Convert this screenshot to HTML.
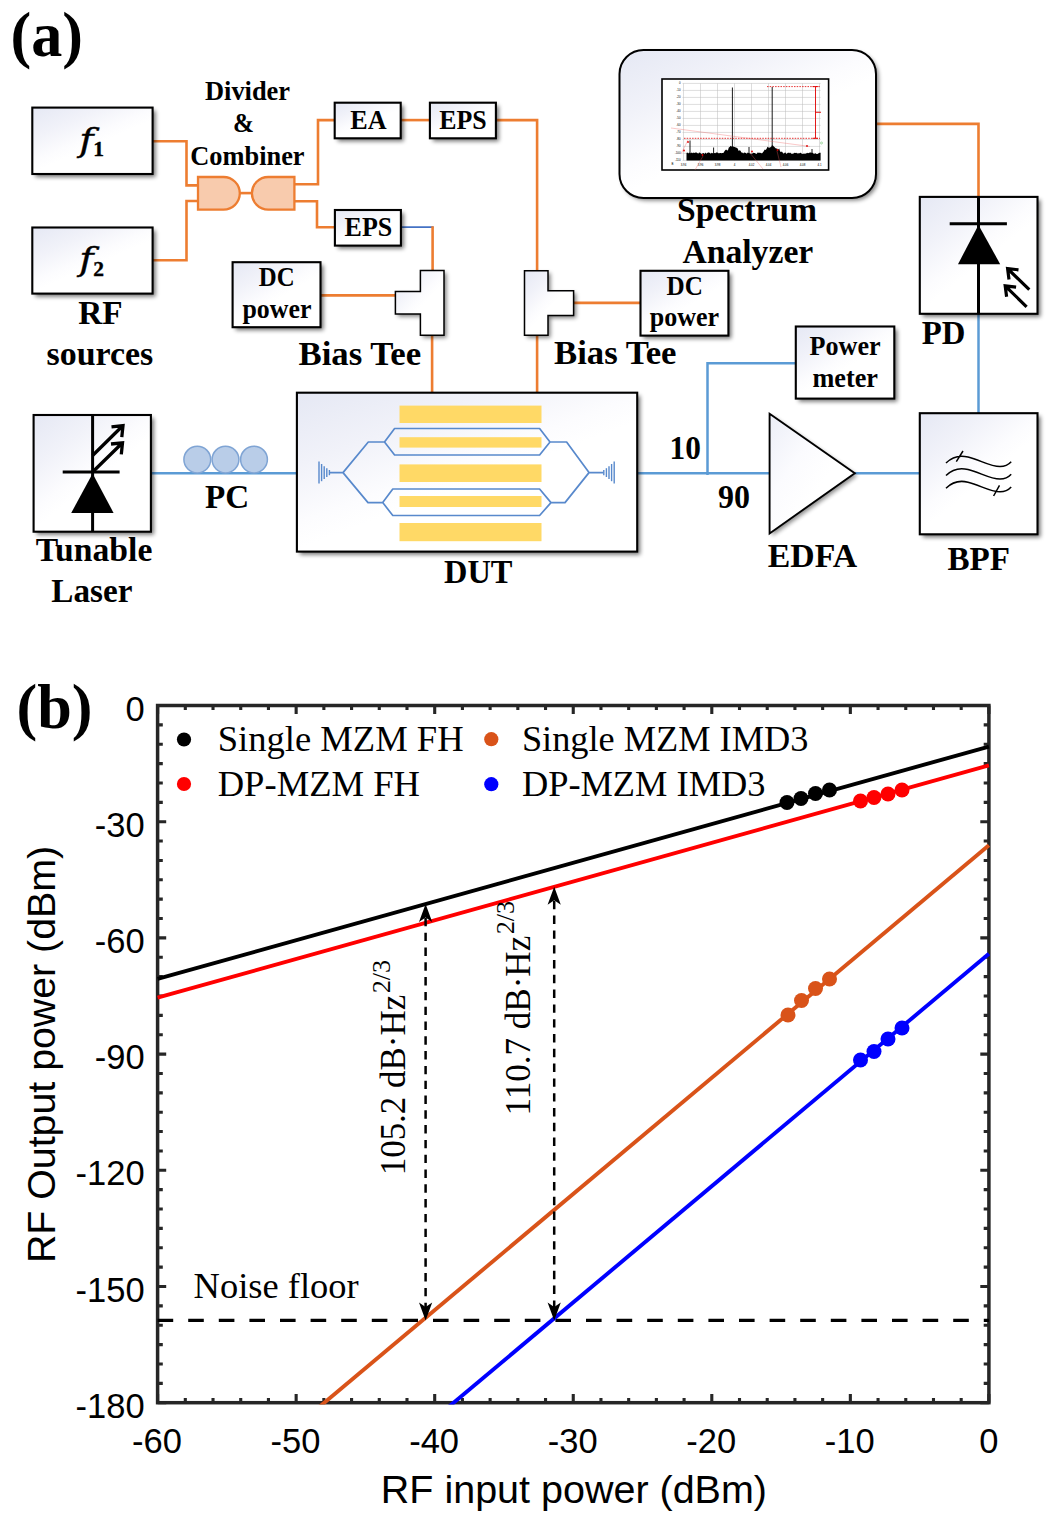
<!DOCTYPE html>
<html><head><meta charset="utf-8"><title>Figure</title>
<style>
html,body{margin:0;padding:0;background:#fff;}
svg{display:block;}
text{fill:#000;}
</style></head><body>
<svg width="1054" height="1521" viewBox="0 0 1054 1521">
<defs>
<linearGradient id="bg" x1="0" y1="0" x2="0.8" y2="1">
<stop offset="0" stop-color="#e5e8f4"/><stop offset="0.28" stop-color="#f1f2f9"/><stop offset="0.5" stop-color="#fcfcfe"/><stop offset="0.6" stop-color="#ffffff"/><stop offset="1" stop-color="#ffffff"/>
</linearGradient>
<linearGradient id="bg2" x1="0" y1="0" x2="1" y2="1"><stop offset="0" stop-color="#eceef7"/><stop offset="0.35" stop-color="#fbfbfe"/><stop offset="0.6" stop-color="#ffffff"/></linearGradient>
<filter id="blur" x="-20%" y="-20%" width="140%" height="140%"><feGaussianBlur stdDeviation="2"/></filter>
</defs>
<rect x="0" y="0" width="1054" height="1521" fill="#fff"/>
<text x="10.5" y="55.5" font-size="62.5" font-weight="bold" font-family='"Liberation Serif", serif' textLength="72.5" lengthAdjust="spacingAndGlyphs" >(a)</text>
<path d="M152.5 141.2 L186.5 141.2 L186.5 185.4 L199 185.4" fill="none" stroke="#ED7D31" stroke-width="2.6" />
<path d="M152.5 260.2 L186.5 260.2 L186.5 201 L199 201" fill="none" stroke="#ED7D31" stroke-width="2.6" />
<path d="M239 193.1 L253 193.1" fill="none" stroke="#ED7D31" stroke-width="2.6" />
<path d="M294 184.3 L318 184.3 L318 120.1 L335 120.1" fill="none" stroke="#ED7D31" stroke-width="2.6" />
<path d="M294 201.2 L317 201.2 L317 227.2 L335 227.2" fill="none" stroke="#ED7D31" stroke-width="2.6" />
<path d="M400 120.1 L431 120.1" fill="none" stroke="#ED7D31" stroke-width="2.6" />
<path d="M495 120.1 L537.1 120.1 L537.1 271" fill="none" stroke="#ED7D31" stroke-width="2.6" />
<path d="M537.1 335 L537.1 392.7" fill="none" stroke="#ED7D31" stroke-width="2.6" />
<path d="M400 227.2 L433.5 227.2" fill="none" stroke="#4472C4" stroke-width="1.8" />
<path d="M432.6 226.3 L432.6 271" fill="none" stroke="#ED7D31" stroke-width="2.6" />
<path d="M432.1 335 L432.1 392.7" fill="none" stroke="#ED7D31" stroke-width="2.6" />
<path d="M320 295.4 L396 295.4" fill="none" stroke="#ED7D31" stroke-width="2.6" />
<path d="M573 302.9 L641 302.9" fill="none" stroke="#ED7D31" stroke-width="2.6" />
<path d="M875 123.9 L978.5 123.9 L978.5 197.5" fill="none" stroke="#ED7D31" stroke-width="2.6" />
<path d="M151 473.3 L297 473.3" fill="none" stroke="#5B9BD5" stroke-width="2.5" />
<path d="M637 473.3 L770 473.3" fill="none" stroke="#5B9BD5" stroke-width="2.5" />
<path d="M707.5 475 L707.5 363.2 L796 363.2" fill="none" stroke="#5B9BD5" stroke-width="2.5" />
<path d="M854.5 473.3 L920 473.3" fill="none" stroke="#5B9BD5" stroke-width="2.5" />
<path d="M978.5 313.5 L978.5 413" fill="none" stroke="#5B9BD5" stroke-width="2.5" />
<rect x="35.3" y="110.6" width="120.3" height="66.4" fill="#000" opacity="0.55" filter="url(#blur)"/>
<rect x="32.3" y="107.6" width="120.3" height="66.4" fill="url(#bg)" stroke="#000" stroke-width="2.1" />
<rect x="35.3" y="230.5" width="120.3" height="66.10000000000002" fill="#000" opacity="0.55" filter="url(#blur)"/>
<rect x="32.3" y="227.5" width="120.3" height="66.10000000000002" fill="url(#bg)" stroke="#000" stroke-width="2.1" />
<rect x="337.7" y="105.7" width="66.0" height="35.60000000000001" fill="#000" opacity="0.55" filter="url(#blur)"/>
<rect x="334.7" y="102.7" width="66.0" height="35.60000000000001" fill="url(#bg)" stroke="#000" stroke-width="2.1" />
<rect x="432.9" y="105.7" width="66.0" height="35.60000000000001" fill="#000" opacity="0.55" filter="url(#blur)"/>
<rect x="429.9" y="102.7" width="66.0" height="35.60000000000001" fill="url(#bg)" stroke="#000" stroke-width="2.1" />
<rect x="337.9" y="213" width="66.0" height="35.599999999999994" fill="#000" opacity="0.55" filter="url(#blur)"/>
<rect x="334.9" y="210" width="66.0" height="35.599999999999994" fill="url(#bg)" stroke="#000" stroke-width="2.1" />
<rect x="235.6" y="265.2" width="87.9" height="65.0" fill="#000" opacity="0.55" filter="url(#blur)"/>
<rect x="232.6" y="262.2" width="87.9" height="65.0" fill="url(#bg)" stroke="#000" stroke-width="2.1" />
<rect x="643.5" y="273.8" width="87.89999999999998" height="64.80000000000001" fill="#000" opacity="0.55" filter="url(#blur)"/>
<rect x="640.5" y="270.8" width="87.89999999999998" height="64.80000000000001" fill="url(#bg)" stroke="#000" stroke-width="2.1" />
<rect x="798.8" y="329.5" width="98.5" height="72.10000000000002" fill="#000" opacity="0.55" filter="url(#blur)"/>
<rect x="795.8" y="326.5" width="98.5" height="72.10000000000002" fill="url(#bg)" stroke="#000" stroke-width="2.1" />
<rect x="922.8" y="199.9" width="117.70000000000005" height="116.9" fill="#000" opacity="0.55" filter="url(#blur)"/>
<rect x="919.8" y="196.9" width="117.70000000000005" height="116.9" fill="url(#bg)" stroke="#000" stroke-width="2.1" />
<rect x="36.6" y="418" width="117.30000000000001" height="116.70000000000005" fill="#000" opacity="0.55" filter="url(#blur)"/>
<rect x="33.6" y="415" width="117.30000000000001" height="116.70000000000005" fill="url(#bg)" stroke="#000" stroke-width="2.1" />
<rect x="299.9" y="395.7" width="340.30000000000007" height="158.90000000000003" fill="#000" opacity="0.55" filter="url(#blur)"/>
<rect x="296.9" y="392.7" width="340.30000000000007" height="158.90000000000003" fill="url(#bg)" stroke="#000" stroke-width="2.1" />
<rect x="922.8" y="416.2" width="117.70000000000005" height="121.09999999999997" fill="#000" opacity="0.55" filter="url(#blur)"/>
<rect x="919.8" y="413.2" width="117.70000000000005" height="121.09999999999997" fill="url(#bg)" stroke="#000" stroke-width="2.1" />
<text transform="translate(79.3,150.5) scale(1.25,1)" stroke="#000" stroke-width="0.35" font-size="31" font-style="italic" font-family='"DejaVu Serif", serif'>f</text>
<text x="93.2" y="156.3" font-size="21.5" font-weight="bold" stroke="#000" stroke-width="0.4" font-family='"Liberation Serif", serif'>1</text>
<text transform="translate(79.3,270.4) scale(1.25,1)" stroke="#000" stroke-width="0.35" font-size="31" font-style="italic" font-family='"DejaVu Serif", serif'>f</text>
<text x="93.2" y="276.2" font-size="21.5" font-weight="bold" stroke="#000" stroke-width="0.4" font-family='"Liberation Serif", serif'>2</text>
<text x="78.3" y="323.8" font-size="34" font-weight="bold" font-family='"Liberation Serif", serif' textLength="44.3" lengthAdjust="spacingAndGlyphs" >RF</text>
<text x="46.5" y="365" font-size="34" font-weight="bold" font-family='"Liberation Serif", serif' textLength="106.7" lengthAdjust="spacingAndGlyphs" >sources</text>
<text x="205" y="100" font-size="26.5" font-weight="bold" font-family='"Liberation Serif", serif' textLength="85.0" lengthAdjust="spacingAndGlyphs" >Divider</text>
<text x="233" y="132.2" font-size="26.5" font-weight="bold" font-family='"Liberation Serif", serif' textLength="21.0" lengthAdjust="spacingAndGlyphs" >&amp;</text>
<text x="190.2" y="165.2" font-size="26.5" font-weight="bold" font-family='"Liberation Serif", serif' textLength="114.4" lengthAdjust="spacingAndGlyphs" >Combiner</text>
<text x="350.3" y="128.9" font-size="27" font-weight="bold" font-family='"Liberation Serif", serif' textLength="36.3" lengthAdjust="spacingAndGlyphs" >EA</text>
<text x="439.2" y="128.9" font-size="27" font-weight="bold" font-family='"Liberation Serif", serif' textLength="47.4" lengthAdjust="spacingAndGlyphs" >EPS</text>
<text x="344.6" y="236.2" font-size="27" font-weight="bold" font-family='"Liberation Serif", serif' textLength="47.6" lengthAdjust="spacingAndGlyphs" >EPS</text>
<text x="258.8" y="286.2" font-size="27" font-weight="bold" font-family='"Liberation Serif", serif' textLength="35.8" lengthAdjust="spacingAndGlyphs" >DC</text>
<text x="242.5" y="317.8" font-size="27" font-weight="bold" font-family='"Liberation Serif", serif' textLength="68.9" lengthAdjust="spacingAndGlyphs" >power</text>
<text x="666.5" y="295.1" font-size="27" font-weight="bold" font-family='"Liberation Serif", serif' textLength="36.3" lengthAdjust="spacingAndGlyphs" >DC</text>
<text x="649.7" y="326.4" font-size="27" font-weight="bold" font-family='"Liberation Serif", serif' textLength="69.4" lengthAdjust="spacingAndGlyphs" >power</text>
<text x="298.5" y="364.7" font-size="34" font-weight="bold" font-family='"Liberation Serif", serif' textLength="122.7" lengthAdjust="spacingAndGlyphs" >Bias Tee</text>
<text x="554" y="364.2" font-size="34" font-weight="bold" font-family='"Liberation Serif", serif' textLength="122.5" lengthAdjust="spacingAndGlyphs" >Bias Tee</text>
<text x="809.5" y="354.6" font-size="27" font-weight="bold" font-family='"Liberation Serif", serif' textLength="71.1" lengthAdjust="spacingAndGlyphs" >Power</text>
<text x="812.5" y="386.7" font-size="27" font-weight="bold" font-family='"Liberation Serif", serif' textLength="65.5" lengthAdjust="spacingAndGlyphs" >meter</text>
<text x="677" y="221.2" font-size="34" font-weight="bold" font-family='"Liberation Serif", serif' textLength="140.0" lengthAdjust="spacingAndGlyphs" >Spectrum</text>
<text x="682.4" y="263" font-size="34" font-weight="bold" font-family='"Liberation Serif", serif' textLength="130.9" lengthAdjust="spacingAndGlyphs" >Analyzer</text>
<text x="921.7" y="343.7" font-size="34" font-weight="bold" font-family='"Liberation Serif", serif' textLength="43.7" lengthAdjust="spacingAndGlyphs" >PD</text>
<text x="35.7" y="561.4" font-size="34" font-weight="bold" font-family='"Liberation Serif", serif' textLength="116.7" lengthAdjust="spacingAndGlyphs" >Tunable</text>
<text x="51.3" y="602.1" font-size="34" font-weight="bold" font-family='"Liberation Serif", serif' textLength="81.1" lengthAdjust="spacingAndGlyphs" >Laser</text>
<text x="205" y="508.2" font-size="34" font-weight="bold" font-family='"Liberation Serif", serif' textLength="44.2" lengthAdjust="spacingAndGlyphs" >PC</text>
<text x="444" y="582.5" font-size="34" font-weight="bold" font-family='"Liberation Serif", serif' textLength="68.5" lengthAdjust="spacingAndGlyphs" >DUT</text>
<text x="767.7" y="566.9" font-size="34" font-weight="bold" font-family='"Liberation Serif", serif' textLength="89.5" lengthAdjust="spacingAndGlyphs" >EDFA</text>
<text x="947.5" y="569.7" font-size="34" font-weight="bold" font-family='"Liberation Serif", serif' textLength="62.5" lengthAdjust="spacingAndGlyphs" >BPF</text>
<text x="669.5" y="458.9" font-size="34" font-weight="bold" font-family='"Liberation Serif", serif' textLength="31.3" lengthAdjust="spacingAndGlyphs" >10</text>
<text x="718" y="508.2" font-size="34" font-weight="bold" font-family='"Liberation Serif", serif' textLength="32.0" lengthAdjust="spacingAndGlyphs" >90</text>
<path d="M198 177 H223.5 A16.3 16.3 0 0 1 223.5 209.6 H198 Z" fill="#F8CBAD" stroke="#ED7D31" stroke-width="2.3"/>
<path d="M294.4 177 H268.2 A16.3 16.3 0 0 0 268.2 209.6 H294.4 Z" fill="#F8CBAD" stroke="#ED7D31" stroke-width="2.3"/>
<path d="M422.9 273.0 L446.5 273.0 L446.5 337.8 L422.9 337.8 L422.9 316.5 L397.9 316.5 L397.9 293.9 L422.9 293.9 Z" fill="#000" opacity="0.5" filter="url(#blur)"/>
<path d="M420.4 270.5 L444 270.5 L444 335.3 L420.4 335.3 L420.4 314 L395.4 314 L395.4 291.4 L420.4 291.4 Z" fill="url(#bg)" stroke="#000" stroke-width="1.5"/>
<path d="M527.0 273.3 L550.5 273.3 L550.5 293.3 L576.1 293.3 L576.1 317.9 L550.5 317.9 L550.5 337.8 L527.0 337.8 Z" fill="#000" opacity="0.5" filter="url(#blur)"/>
<path d="M524.5 270.8 L548 270.8 L548 290.8 L573.6 290.8 L573.6 315.4 L548 315.4 L548 335.3 L524.5 335.3 Z" fill="url(#bg)" stroke="#000" stroke-width="1.5"/>
<circle cx="197.3" cy="459.6" r="13.4" fill="#B9CDE8" stroke="#7FA4D4" stroke-width="1.5"/>
<circle cx="225.5" cy="459.6" r="13.4" fill="#B9CDE8" stroke="#7FA4D4" stroke-width="1.5"/>
<circle cx="254" cy="459.6" r="13.4" fill="#B9CDE8" stroke="#7FA4D4" stroke-width="1.5"/>
<path d="M772 416.3 L857.4 475.7 L772 536 Z" fill="#000" opacity="0.45" filter="url(#blur)"/>
<path d="M769.6 413.7 L854.8 473.2 L769.6 533.5 Z" fill="url(#bg2)" stroke="#000" stroke-width="1.9"/>
<rect x="622" y="52.6" width="256.5" height="148" rx="24" fill="#000" opacity="0.5" filter="url(#blur)"/>
<rect x="619.5" y="50" width="256.5" height="148" rx="24" fill="url(#bg)" stroke="#000" stroke-width="2"/>
<rect x="662" y="79" width="166.6" height="91" fill="#fff" stroke="#000" stroke-width="1.6"/>
<path d="M683.5 83.4 V160.4 M700.5 83.4 V160.4 M717.5 83.4 V160.4 M734.5 83.4 V160.4 M751.5 83.4 V160.4 M768.5 83.4 V160.4 M785.5 83.4 V160.4 M802.5 83.4 V160.4 M819.5 83.4 V160.4 M682.5 83.4 H820.6 M682.5 90.4 H820.6 M682.5 97.4 H820.6 M682.5 104.4 H820.6 M682.5 111.4 H820.6 M682.5 118.4 H820.6 M682.5 125.4 H820.6 M682.5 132.4 H820.6 M682.5 139.4 H820.6 M682.5 146.4 H820.6 M682.5 153.4 H820.6 M682.5 160.4 H820.6" stroke="#bbb" stroke-width="0.5" fill="none"/>
<path d="M686.5 160.4 L686.5 152.9 L687.4 152.6 L688.3 153.4 L689.2 152.5 L690.1 153.3 L691.0 153.0 L691.9 152.5 L692.8 153.2 L693.7 152.5 L694.6 153.1 L695.5 152.5 L696.4 152.5 L697.3 153.1 L698.2 153.7 L699.1 152.6 L700.0 152.8 L700.9 153.4 L701.8 153.9 L702.7 153.3 L703.6 153.0 L704.5 154.0 L705.4 152.5 L706.3 153.8 L707.2 152.9 L708.1 152.6 L709.0 152.6 L709.9 152.9 L710.8 153.7 L711.7 152.7 L712.6 153.3 L713.5 153.4 L714.4 153.0 L715.3 153.3 L716.2 152.5 L717.1 152.5 L718.0 152.7 L718.9 153.5 L719.8 153.1 L720.7 152.9 L721.6 153.3 L722.5 153.1 L723.4 152.9 L724.3 151.5 L725.2 150.2 L726.1 149.4 L727.0 150.3 L727.9 150.5 L728.8 147.5 L729.7 147.0 L730.6 145.8 L731.5 146.5 L732.4 146.6 L733.3 146.4 L734.2 147.1 L735.1 147.1 L736.0 147.8 L736.9 147.7 L737.8 148.7 L738.7 151.1 L739.6 150.2 L740.5 150.8 L741.4 152.4 L742.3 152.5 L743.2 153.6 L744.1 152.6 L745.0 152.8 L745.9 153.0 L746.8 153.8 L747.7 152.5 L748.6 153.1 L749.5 153.3 L750.4 153.8 L751.3 153.7 L752.2 153.8 L753.1 152.8 L754.0 153.1 L754.9 153.0 L755.8 153.8 L756.7 153.9 L757.6 152.6 L758.5 152.7 L759.4 152.8 L760.3 152.8 L761.2 153.2 L762.1 153.3 L763.0 152.3 L763.9 151.1 L764.8 149.4 L765.7 149.9 L766.6 148.8 L767.5 146.8 L768.4 147.4 L769.3 147.8 L770.2 147.2 L771.1 147.0 L772.0 145.2 L772.9 145.4 L773.8 146.6 L774.7 147.2 L775.6 148.3 L776.5 148.5 L777.4 148.7 L778.3 149.4 L779.2 148.6 L780.1 151.5 L781.0 152.1 L781.9 151.6 L782.8 152.8 L783.7 153.7 L784.6 152.7 L785.5 152.4 L786.4 153.9 L787.3 153.2 L788.2 152.6 L789.1 153.3 L790.0 152.4 L790.9 153.2 L791.8 154.0 L792.7 153.8 L793.6 153.5 L794.5 152.8 L795.4 153.0 L796.3 152.7 L797.2 153.6 L798.1 153.3 L799.0 153.6 L799.9 152.9 L800.8 152.8 L801.7 153.7 L802.6 154.0 L803.5 153.8 L804.4 153.7 L805.3 153.7 L806.2 153.6 L807.1 152.8 L808.0 153.2 L808.9 153.0 L809.8 152.4 L810.7 152.4 L811.6 152.8 L812.5 152.8 L813.4 153.5 L814.3 153.9 L815.2 153.1 L816.1 153.9 L817.0 154.0 L817.9 153.9 L818.8 153.0 L819.7 152.8 L820.6 152.8 L820.6 160.4 Z" fill="#000"/>
<path d="M732.4 156 V87.5 M772.2 156 V87 M690 156 V140.5 M713.6 156 V147.5 M749 156 V147 M812 156 V149" stroke="#000" stroke-width="0.9" fill="none"/>
<path d="M767 86.6 H820 M684 138.3 H820" stroke="#e00000" stroke-width="0.8" stroke-dasharray="1.5 1.2" fill="none"/>
<path d="M815.5 86.6 V138.3 M812.5 86.6 H818 M815.5 112.3 H821 M812.5 138.3 H818" stroke="#e00000" stroke-width="0.9" fill="none"/>
<path d="M671 128 L810 146.5 M681 154 L688 140 M695 170 L703 156 M750 153 L763 169 M777 151 L781 167" stroke="#f06060" stroke-width="0.35" fill="none"/>
<circle cx="688" cy="142" r="0.9" fill="#e00000"/>
<circle cx="702.5" cy="155" r="0.9" fill="#e00000"/>
<circle cx="752" cy="151.5" r="0.9" fill="#e00000"/>
<circle cx="777.5" cy="150" r="0.9" fill="#e00000"/>
<circle cx="807" cy="146" r="0.9" fill="#e00000"/>
<circle cx="684" cy="150.5" r="0.9" fill="#e00000"/>
<circle cx="821.5" cy="143" r="1" fill="none" stroke="#3a3" stroke-width="0.4"/>
<text x="680.5" y="84.4" font-size="2.9" text-anchor="end" font-family='"Liberation Sans", sans-serif' fill="#333">0</text>
<text x="680.5" y="91.4" font-size="2.9" text-anchor="end" font-family='"Liberation Sans", sans-serif' fill="#333">-10</text>
<text x="680.5" y="98.4" font-size="2.9" text-anchor="end" font-family='"Liberation Sans", sans-serif' fill="#333">-20</text>
<text x="680.5" y="105.4" font-size="2.9" text-anchor="end" font-family='"Liberation Sans", sans-serif' fill="#333">-30</text>
<text x="680.5" y="112.4" font-size="2.9" text-anchor="end" font-family='"Liberation Sans", sans-serif' fill="#333">-40</text>
<text x="680.5" y="119.4" font-size="2.9" text-anchor="end" font-family='"Liberation Sans", sans-serif' fill="#333">-50</text>
<text x="680.5" y="126.4" font-size="2.9" text-anchor="end" font-family='"Liberation Sans", sans-serif' fill="#333">-60</text>
<text x="680.5" y="133.4" font-size="2.9" text-anchor="end" font-family='"Liberation Sans", sans-serif' fill="#333">-70</text>
<text x="680.5" y="140.4" font-size="2.9" text-anchor="end" font-family='"Liberation Sans", sans-serif' fill="#333">-80</text>
<text x="680.5" y="147.4" font-size="2.9" text-anchor="end" font-family='"Liberation Sans", sans-serif' fill="#333">-90</text>
<text x="680.5" y="154.4" font-size="2.9" text-anchor="end" font-family='"Liberation Sans", sans-serif' fill="#333">-100</text>
<text x="680.5" y="161.4" font-size="2.9" text-anchor="end" font-family='"Liberation Sans", sans-serif' fill="#333">-110</text>
<text x="683.5" y="165.6" font-size="2.9" text-anchor="middle" font-family='"Liberation Sans", sans-serif' fill="#333">3.94</text>
<text x="700.5" y="165.6" font-size="2.9" text-anchor="middle" font-family='"Liberation Sans", sans-serif' fill="#333">3.96</text>
<text x="717.5" y="165.6" font-size="2.9" text-anchor="middle" font-family='"Liberation Sans", sans-serif' fill="#333">3.98</text>
<text x="734.5" y="165.6" font-size="2.9" text-anchor="middle" font-family='"Liberation Sans", sans-serif' fill="#333">4</text>
<text x="751.5" y="165.6" font-size="2.9" text-anchor="middle" font-family='"Liberation Sans", sans-serif' fill="#333">4.02</text>
<text x="768.5" y="165.6" font-size="2.9" text-anchor="middle" font-family='"Liberation Sans", sans-serif' fill="#333">4.04</text>
<text x="785.5" y="165.6" font-size="2.9" text-anchor="middle" font-family='"Liberation Sans", sans-serif' fill="#333">4.06</text>
<text x="802.5" y="165.6" font-size="2.9" text-anchor="middle" font-family='"Liberation Sans", sans-serif' fill="#333">4.08</text>
<text x="819.5" y="165.6" font-size="2.9" text-anchor="middle" font-family='"Liberation Sans", sans-serif' fill="#333">4.1</text>
<text x="672.5" y="165" font-size="2.9" text-anchor="middle" font-family='"Liberation Sans", sans-serif' fill="#333">B</text>
<rect x="399.5" y="405.6" width="142" height="17.4" fill="#FFD966"/>
<rect x="399.5" y="437.2" width="142" height="10.4" fill="#FFD966"/>
<rect x="399.5" y="464.4" width="142" height="17.6" fill="#FFD966"/>
<rect x="399.5" y="496" width="142" height="11.0" fill="#FFD966"/>
<rect x="399.5" y="523" width="142" height="18.2" fill="#FFD966"/>
<path d="M330 472.6 H343 L368.3 442 H384.5 L394.6 428.5 H539.6 L550 442 H566.6 L589 472.6 H603.5 M384.5 442 L394.6 455 H539.6 L550 442 M343 472.6 L368 502.6 H382.7 L392.8 489 H539.6 L551 502.6 H565 L589 472.6 M382.7 502.6 L392.8 515.5 H539.6 L551 502.6" fill="none" stroke="#5889CC" stroke-width="1.7" stroke-linejoin="round"/>
<path d="M319.0 461.6 V483.6" stroke="#5889CC" stroke-width="1.4"/>
<path d="M614.2 461.6 V483.6" stroke="#5889CC" stroke-width="1.4"/>
<path d="M321.6 464.0 V481.20000000000005" stroke="#5889CC" stroke-width="1.4"/>
<path d="M611.6 464.0 V481.20000000000005" stroke="#5889CC" stroke-width="1.4"/>
<path d="M324.2 466.20000000000005 V479.0" stroke="#5889CC" stroke-width="1.4"/>
<path d="M609.0 466.20000000000005 V479.0" stroke="#5889CC" stroke-width="1.4"/>
<path d="M326.8 468.20000000000005 V477.0" stroke="#5889CC" stroke-width="1.4"/>
<path d="M606.4 468.20000000000005 V477.0" stroke="#5889CC" stroke-width="1.4"/>
<path d="M329.4 470.0 V475.20000000000005" stroke="#5889CC" stroke-width="1.4"/>
<path d="M603.8 470.0 V475.20000000000005" stroke="#5889CC" stroke-width="1.4"/>
<path d="M92.6 415 V531.7 M62.7 472 H119.6" stroke="#000" stroke-width="3" fill="none"/>
<path d="M92.6 473.4 L113.6 513 H71.2 Z" fill="#000"/>
<path d="M92.6 455.5 L122 426.5 M111.5 426.8 L123 425.6 L121.8 437.2 M92.6 472 L121.5 443.7 M111 444 L122.5 442.8 L121.3 454.4" stroke="#000" stroke-width="3.3" fill="none" stroke-linejoin="miter"/>
<path d="M978.5 196.9 V313.8 M949.7 223.7 H1006.9" stroke="#000" stroke-width="3" fill="none"/>
<path d="M978.5 224.9 L1000.2 264.2 H958 Z" fill="#000"/>
<path d="M1029.3 289.6 L1008.5 269.5 M1009 279.5 L1007.6 268.6 L1018.5 269.8 M1026.6 306.8 L1006.2 286.8 M1006.6 296.8 L1005.2 285.9 L1016.1 287.1" stroke="#000" stroke-width="3.2" fill="none" stroke-linejoin="miter"/>
<path d="M946 463.0 C952 457.0 960 455.0 968 457.0 C980 460.0 990 466.6 1000 466.6 C1005 466.6 1009 464.2 1011.2 461.8 M946 475.5 C952 469.5 960 467.5 968 469.5 C980 472.5 990 479.1 1000 479.1 C1005 479.1 1009 476.7 1011.2 474.3 M946 488.2 C952 482.2 960 480.2 968 482.2 C980 485.2 990 491.8 1000 491.8 C1005 491.8 1009 489.4 1011.2 487.0 M956.3 461.6 L963 451 M993.6 496 L999.5 485.4" stroke="#000" stroke-width="1.5" fill="none"/>
<text x="16.5" y="728.4" font-size="63" font-weight="bold" font-family='"Liberation Serif", serif' textLength="76.0" lengthAdjust="spacingAndGlyphs" >(b)</text>
<clipPath id="pc"><rect x="155.9" y="703.8" width="834.6999999999999" height="700.6"/></clipPath>
<rect x="157.6" y="705.5" width="831.3" height="697.2" fill="none" stroke="#262626" stroke-width="3.5"/>
<path d="M157.60 1402.7 v-8.6 M157.60 705.5 v8.6 M185.31 1402.7 v-4.6 M185.31 705.5 v4.6 M213.02 1402.7 v-4.6 M213.02 705.5 v4.6 M240.73 1402.7 v-4.6 M240.73 705.5 v4.6 M268.44 1402.7 v-4.6 M268.44 705.5 v4.6 M296.15 1402.7 v-8.6 M296.15 705.5 v8.6 M323.86 1402.7 v-4.6 M323.86 705.5 v4.6 M351.57 1402.7 v-4.6 M351.57 705.5 v4.6 M379.28 1402.7 v-4.6 M379.28 705.5 v4.6 M406.99 1402.7 v-4.6 M406.99 705.5 v4.6 M434.70 1402.7 v-8.6 M434.70 705.5 v8.6 M462.41 1402.7 v-4.6 M462.41 705.5 v4.6 M490.12 1402.7 v-4.6 M490.12 705.5 v4.6 M517.83 1402.7 v-4.6 M517.83 705.5 v4.6 M545.54 1402.7 v-4.6 M545.54 705.5 v4.6 M573.25 1402.7 v-8.6 M573.25 705.5 v8.6 M600.96 1402.7 v-4.6 M600.96 705.5 v4.6 M628.67 1402.7 v-4.6 M628.67 705.5 v4.6 M656.38 1402.7 v-4.6 M656.38 705.5 v4.6 M684.09 1402.7 v-4.6 M684.09 705.5 v4.6 M711.80 1402.7 v-8.6 M711.80 705.5 v8.6 M739.51 1402.7 v-4.6 M739.51 705.5 v4.6 M767.22 1402.7 v-4.6 M767.22 705.5 v4.6 M794.93 1402.7 v-4.6 M794.93 705.5 v4.6 M822.64 1402.7 v-4.6 M822.64 705.5 v4.6 M850.35 1402.7 v-8.6 M850.35 705.5 v8.6 M878.06 1402.7 v-4.6 M878.06 705.5 v4.6 M905.77 1402.7 v-4.6 M905.77 705.5 v4.6 M933.48 1402.7 v-4.6 M933.48 705.5 v4.6 M961.19 1402.7 v-4.6 M961.19 705.5 v4.6 M988.90 1402.7 v-8.6 M988.90 705.5 v8.6 M157.6 705.50 h8.6 M988.9 705.50 h-8.6 M157.6 724.87 h5.2 M988.9 724.87 h-5.2 M157.6 744.23 h5.2 M988.9 744.23 h-5.2 M157.6 763.60 h5.2 M988.9 763.60 h-5.2 M157.6 782.97 h5.2 M988.9 782.97 h-5.2 M157.6 802.33 h5.2 M988.9 802.33 h-5.2 M157.6 821.70 h8.6 M988.9 821.70 h-8.6 M157.6 841.07 h5.2 M988.9 841.07 h-5.2 M157.6 860.43 h5.2 M988.9 860.43 h-5.2 M157.6 879.80 h5.2 M988.9 879.80 h-5.2 M157.6 899.17 h5.2 M988.9 899.17 h-5.2 M157.6 918.53 h5.2 M988.9 918.53 h-5.2 M157.6 937.90 h8.6 M988.9 937.90 h-8.6 M157.6 957.27 h5.2 M988.9 957.27 h-5.2 M157.6 976.63 h5.2 M988.9 976.63 h-5.2 M157.6 996.00 h5.2 M988.9 996.00 h-5.2 M157.6 1015.37 h5.2 M988.9 1015.37 h-5.2 M157.6 1034.73 h5.2 M988.9 1034.73 h-5.2 M157.6 1054.10 h8.6 M988.9 1054.10 h-8.6 M157.6 1073.47 h5.2 M988.9 1073.47 h-5.2 M157.6 1092.83 h5.2 M988.9 1092.83 h-5.2 M157.6 1112.20 h5.2 M988.9 1112.20 h-5.2 M157.6 1131.57 h5.2 M988.9 1131.57 h-5.2 M157.6 1150.93 h5.2 M988.9 1150.93 h-5.2 M157.6 1170.30 h8.6 M988.9 1170.30 h-8.6 M157.6 1189.67 h5.2 M988.9 1189.67 h-5.2 M157.6 1209.03 h5.2 M988.9 1209.03 h-5.2 M157.6 1228.40 h5.2 M988.9 1228.40 h-5.2 M157.6 1247.77 h5.2 M988.9 1247.77 h-5.2 M157.6 1267.13 h5.2 M988.9 1267.13 h-5.2 M157.6 1286.50 h8.6 M988.9 1286.50 h-8.6 M157.6 1305.87 h5.2 M988.9 1305.87 h-5.2 M157.6 1325.23 h5.2 M988.9 1325.23 h-5.2 M157.6 1344.60 h5.2 M988.9 1344.60 h-5.2 M157.6 1363.97 h5.2 M988.9 1363.97 h-5.2 M157.6 1383.33 h5.2 M988.9 1383.33 h-5.2 M157.6 1402.70 h8.6 M988.9 1402.70 h-8.6" stroke="#262626" stroke-width="3.1" fill="none"/>
<path d="M157.6 1320.39 H988.9" stroke="#000" stroke-width="3.3" stroke-dasharray="15.6 15" fill="none"/>
<path d="M157.60 978.96 L988.90 746.56" stroke="#000" stroke-width="3.9" fill="none" clip-path="url(#pc)"/>
<path d="M157.60 997.74 L988.90 765.34" stroke="#FF0000" stroke-width="3.9" fill="none" clip-path="url(#pc)"/>
<path d="M157.60 1542.53 L988.90 845.33" stroke="#D95319" stroke-width="3.9" fill="none" clip-path="url(#pc)"/>
<path d="M157.60 1650.98 L988.90 953.78" stroke="#0000FF" stroke-width="3.9" fill="none" clip-path="url(#pc)"/>
<circle cx="787" cy="802.5" r="7.5" fill="#000"/>
<circle cx="801" cy="798.5" r="7.5" fill="#000"/>
<circle cx="815.5" cy="793.5" r="7.5" fill="#000"/>
<circle cx="829.5" cy="790" r="7.5" fill="#000"/>
<circle cx="860.5" cy="801" r="7.5" fill="#FF0000"/>
<circle cx="874" cy="797.5" r="7.5" fill="#FF0000"/>
<circle cx="888" cy="794" r="7.5" fill="#FF0000"/>
<circle cx="902" cy="790" r="7.5" fill="#FF0000"/>
<circle cx="788" cy="1015" r="7.5" fill="#D95319"/>
<circle cx="801.5" cy="1000.5" r="7.5" fill="#D95319"/>
<circle cx="815.5" cy="988.5" r="7.5" fill="#D95319"/>
<circle cx="829.5" cy="979" r="7.5" fill="#D95319"/>
<circle cx="860.5" cy="1060" r="7.5" fill="#0000FF"/>
<circle cx="874" cy="1051.5" r="7.5" fill="#0000FF"/>
<circle cx="888" cy="1039" r="7.5" fill="#0000FF"/>
<circle cx="902" cy="1028" r="7.5" fill="#0000FF"/>
<text x="157.0" y="1452.7" font-size="34.5" text-anchor="middle" font-weight="normal" font-family='"Liberation Sans", sans-serif' fill="#262626">-60</text>
<text x="295.54999999999995" y="1452.7" font-size="34.5" text-anchor="middle" font-weight="normal" font-family='"Liberation Sans", sans-serif' fill="#262626">-50</text>
<text x="434.0999999999999" y="1452.7" font-size="34.5" text-anchor="middle" font-weight="normal" font-family='"Liberation Sans", sans-serif' fill="#262626">-40</text>
<text x="572.65" y="1452.7" font-size="34.5" text-anchor="middle" font-weight="normal" font-family='"Liberation Sans", sans-serif' fill="#262626">-30</text>
<text x="711.1999999999999" y="1452.7" font-size="34.5" text-anchor="middle" font-weight="normal" font-family='"Liberation Sans", sans-serif' fill="#262626">-20</text>
<text x="849.75" y="1452.7" font-size="34.5" text-anchor="middle" font-weight="normal" font-family='"Liberation Sans", sans-serif' fill="#262626">-10</text>
<text x="988.9" y="1452.7" font-size="34.5" text-anchor="middle" font-weight="normal" font-family='"Liberation Sans", sans-serif' fill="#262626">0</text>
<text x="144.6" y="720.5" font-size="34.5" text-anchor="end" font-weight="normal" font-family='"Liberation Sans", sans-serif' fill="#262626">0</text>
<text x="144.6" y="836.7" font-size="34.5" text-anchor="end" font-weight="normal" font-family='"Liberation Sans", sans-serif' fill="#262626">-30</text>
<text x="144.6" y="952.9" font-size="34.5" text-anchor="end" font-weight="normal" font-family='"Liberation Sans", sans-serif' fill="#262626">-60</text>
<text x="144.6" y="1069.1" font-size="34.5" text-anchor="end" font-weight="normal" font-family='"Liberation Sans", sans-serif' fill="#262626">-90</text>
<text x="144.6" y="1185.3" font-size="34.5" text-anchor="end" font-weight="normal" font-family='"Liberation Sans", sans-serif' fill="#262626">-120</text>
<text x="144.6" y="1301.5" font-size="34.5" text-anchor="end" font-weight="normal" font-family='"Liberation Sans", sans-serif' fill="#262626">-150</text>
<text x="144.6" y="1417.7" font-size="34.5" text-anchor="end" font-weight="normal" font-family='"Liberation Sans", sans-serif' fill="#262626">-180</text>
<text x="380.8" y="1503" font-size="38.5" font-weight="normal" font-family='"Liberation Sans", sans-serif' textLength="386.2" lengthAdjust="spacingAndGlyphs" fill="#262626">RF input power (dBm)</text>
<text transform="translate(55.2,1263) rotate(-90)" font-size="38.5" textLength="417" lengthAdjust="spacingAndGlyphs" font-family='"Liberation Sans", sans-serif' fill="#262626">RF Output power (dBm)</text>
<circle cx="184" cy="739.5" r="7.1" fill="#000"/>
<circle cx="184" cy="784" r="7.1" fill="#FF0000"/>
<circle cx="491.3" cy="739.2" r="7.1" fill="#D95319"/>
<circle cx="491.3" cy="784.2" r="7.1" fill="#0000FF"/>
<text x="217.7" y="751.2" font-size="36.5" font-weight="normal" font-family='"Liberation Serif", serif' textLength="245.9" lengthAdjust="spacingAndGlyphs" >Single MZM FH</text>
<text x="217.7" y="795.8" font-size="36.5" font-weight="normal" font-family='"Liberation Serif", serif' textLength="202.3" lengthAdjust="spacingAndGlyphs" >DP-MZM FH</text>
<text x="521.9" y="751.2" font-size="36.5" font-weight="normal" font-family='"Liberation Serif", serif' textLength="286.5" lengthAdjust="spacingAndGlyphs" >Single MZM IMD3</text>
<text x="521.9" y="795.8" font-size="36.5" font-weight="normal" font-family='"Liberation Serif", serif' textLength="243.6" lengthAdjust="spacingAndGlyphs" >DP-MZM IMD3</text>
<text x="193.6" y="1297.6" font-size="36.5" font-weight="normal" font-family='"Liberation Serif", serif' textLength="165.0" lengthAdjust="spacingAndGlyphs" >Noise floor</text>
<path d="M425.6 917.9 V1307.3916666666667" stroke="#000" stroke-width="2.5" stroke-dasharray="8.4 6.4" fill="none"/>
<path d="M425.6 903.9 l-6.6 18 l6.6 -4.5 l6.6 4.5 Z" fill="#000"/>
<path d="M425.6 1320.3916666666667 l-6.6 -18 l6.6 4.5 l6.6 -4.5 Z" fill="#000"/>
<path d="M554.2 900.8 V1307.3916666666667" stroke="#000" stroke-width="2.5" stroke-dasharray="8.4 6.4" fill="none"/>
<path d="M554.2 886.8 l-6.6 18 l6.6 -4.5 l6.6 4.5 Z" fill="#000"/>
<path d="M554.2 1320.3916666666667 l-6.6 -18 l6.6 4.5 l6.6 -4.5 Z" fill="#000"/>
<text transform="translate(404.9,1175.3) rotate(-90)" font-size="36" font-family='"Liberation Serif", serif'><tspan textLength="180.5" lengthAdjust="spacingAndGlyphs">105.2 dB·Hz</tspan><tspan font-size="24.5" dy="-15.3" dx="1.5" textLength="33.5" lengthAdjust="spacingAndGlyphs">2/3</tspan></text>
<text transform="translate(529.6,1115.6) rotate(-90)" font-size="36" font-family='"Liberation Serif", serif'><tspan textLength="179.8" lengthAdjust="spacingAndGlyphs">110.7 dB·Hz</tspan><tspan font-size="24.5" dy="-15.3" dx="1.5" textLength="33.5" lengthAdjust="spacingAndGlyphs">2/3</tspan></text>
</svg>
</body></html>
